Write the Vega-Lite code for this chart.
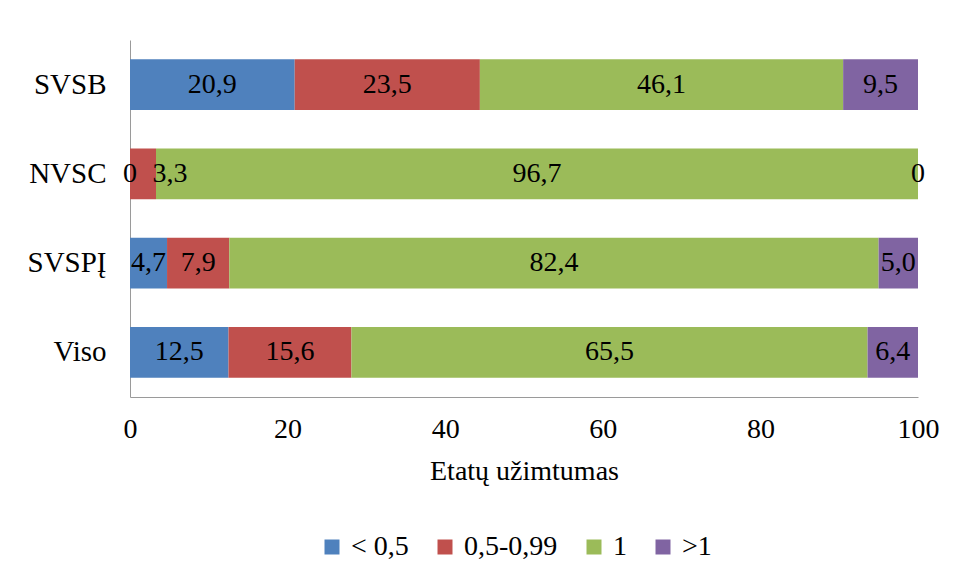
{
  "$schema": "https://vega.github.io/schema/vega-lite/v6.json",
  "width": 788,
  "height": 357,
  "autosize": {"type": "none"},
  "padding": {"left": 130, "top": 40, "right": 40, "bottom": 182},
  "background": "white",
  "config": {
    "locale": {"number": {"decimal": ",", "thousands": " ", "grouping": [3], "currency": ["", ""]}},
    "view": {"stroke": null},
    "font": "Liberation Serif",
    "mark": {"font": "Liberation Serif"},
    "text": {"font": "Liberation Serif"},
    "axis": {"labelFont": "Liberation Serif", "titleFont": "Liberation Serif", "labelColor": "black", "titleColor": "black"},
    "legend": {"labelFont": "Liberation Serif"}
  },
  "data": {
    "values": [
      {"cat": "SVSB", "grp": "< 0,5", "k": 1, "v": 20.9},
      {"cat": "SVSB", "grp": "0,5-0,99", "k": 2, "v": 23.5},
      {"cat": "SVSB", "grp": "1", "k": 3, "v": 46.1},
      {"cat": "SVSB", "grp": ">1", "k": 4, "v": 9.5},
      {"cat": "NVSC", "grp": "< 0,5", "k": 1, "v": 0},
      {"cat": "NVSC", "grp": "0,5-0,99", "k": 2, "v": 3.3},
      {"cat": "NVSC", "grp": "1", "k": 3, "v": 96.7},
      {"cat": "NVSC", "grp": ">1", "k": 4, "v": 0},
      {"cat": "SVSPĮ", "grp": "< 0,5", "k": 1, "v": 4.7},
      {"cat": "SVSPĮ", "grp": "0,5-0,99", "k": 2, "v": 7.9},
      {"cat": "SVSPĮ", "grp": "1", "k": 3, "v": 82.4},
      {"cat": "SVSPĮ", "grp": ">1", "k": 4, "v": 5.0},
      {"cat": "Viso", "grp": "< 0,5", "k": 1, "v": 12.5},
      {"cat": "Viso", "grp": "0,5-0,99", "k": 2, "v": 15.6},
      {"cat": "Viso", "grp": "1", "k": 3, "v": 65.5},
      {"cat": "Viso", "grp": ">1", "k": 4, "v": 6.4}
    ]
  },
  "transform": [
    {"stack": "v", "groupby": ["cat"], "sort": [{"field": "k", "order": "ascending"}], "as": ["x0", "x1"]}
  ],
  "encoding": {
    "y": {
      "field": "cat", "type": "nominal",
      "sort": ["SVSB", "NVSC", "SVSPĮ", "Viso"],
      "scale": {"paddingInner": 0.43, "paddingOuter": 0.215},
      "axis": {"title": null, "ticks": false, "labelFontSize": 29, "labelPadding": 24, "domainColor": "#9a9a9a", "labelColor": "black"}
    }
  },
  "layer": [
    {
      "mark": {"type": "bar"},
      "encoding": {
        "x": {
          "field": "x0", "type": "quantitative",
          "scale": {"domain": [0, 100], "nice": false},
          "axis": {"values": [0, 20, 40, 60, 80, 100], "grid": false, "ticks": false, "labelFontSize": 28, "labelPadding": 18, "domainColor": "#9a9a9a", "title": "Etatų užimtumas", "titleFontSize": 28, "titleFontWeight": "normal", "titlePadding": 14, "labelFlush": false}
        },
        "x2": {"field": "x1"},
        "color": {
          "field": "grp", "type": "nominal",
          "scale": {"domain": ["< 0,5", "0,5-0,99", "1", ">1"], "range": ["#4F81BD", "#C0504D", "#9BBB59", "#8064A2"]},
          "legend": {
            "title": null, "orient": "none", "direction": "horizontal",
            "legendX": 188, "legendY": 493,
            "symbolType": "square", "symbolSize": 225, "symbolStrokeWidth": 0,
            "labelFontSize": 28, "labelColor": "black", "labelOffset": 5, "columnPadding": 22
          }
        }
      }
    },
    {
      "transform": [
        {"fold": ["x0", "x1"], "as": ["pk", "pv"]},
        {"aggregate": [{"op": "mean", "field": "pv", "as": "mid"}], "groupby": ["cat", "grp", "k", "v"]},
        {"filter": "!(datum.v > 0 && datum.v < 4)"}
      ],
      "mark": {"type": "text", "fontSize": 28, "color": "black", "baseline": "middle", "align": "center", "font": "Liberation Serif"},
      "encoding": {
        "x": {"field": "mid", "type": "quantitative"},
        "text": {"condition": {"test": "datum.v === 0", "value": "0"}, "field": "v", "type": "quantitative", "format": ".1f"}
      }
    },
    {
      "transform": [
        {"fold": ["x0", "x1"], "as": ["pk", "pv"]},
        {"aggregate": [{"op": "mean", "field": "pv", "as": "mid"}], "groupby": ["cat", "grp", "k", "v"]},
        {"filter": "datum.v > 0 && datum.v < 4"}
      ],
      "mark": {"type": "text", "fontSize": 28, "color": "black", "baseline": "middle", "align": "center", "dx": 27, "font": "Liberation Serif"},
      "encoding": {
        "x": {"field": "mid", "type": "quantitative"},
        "text": {"field": "v", "type": "quantitative", "format": ".1f"}
      }
    }
  ]
}
